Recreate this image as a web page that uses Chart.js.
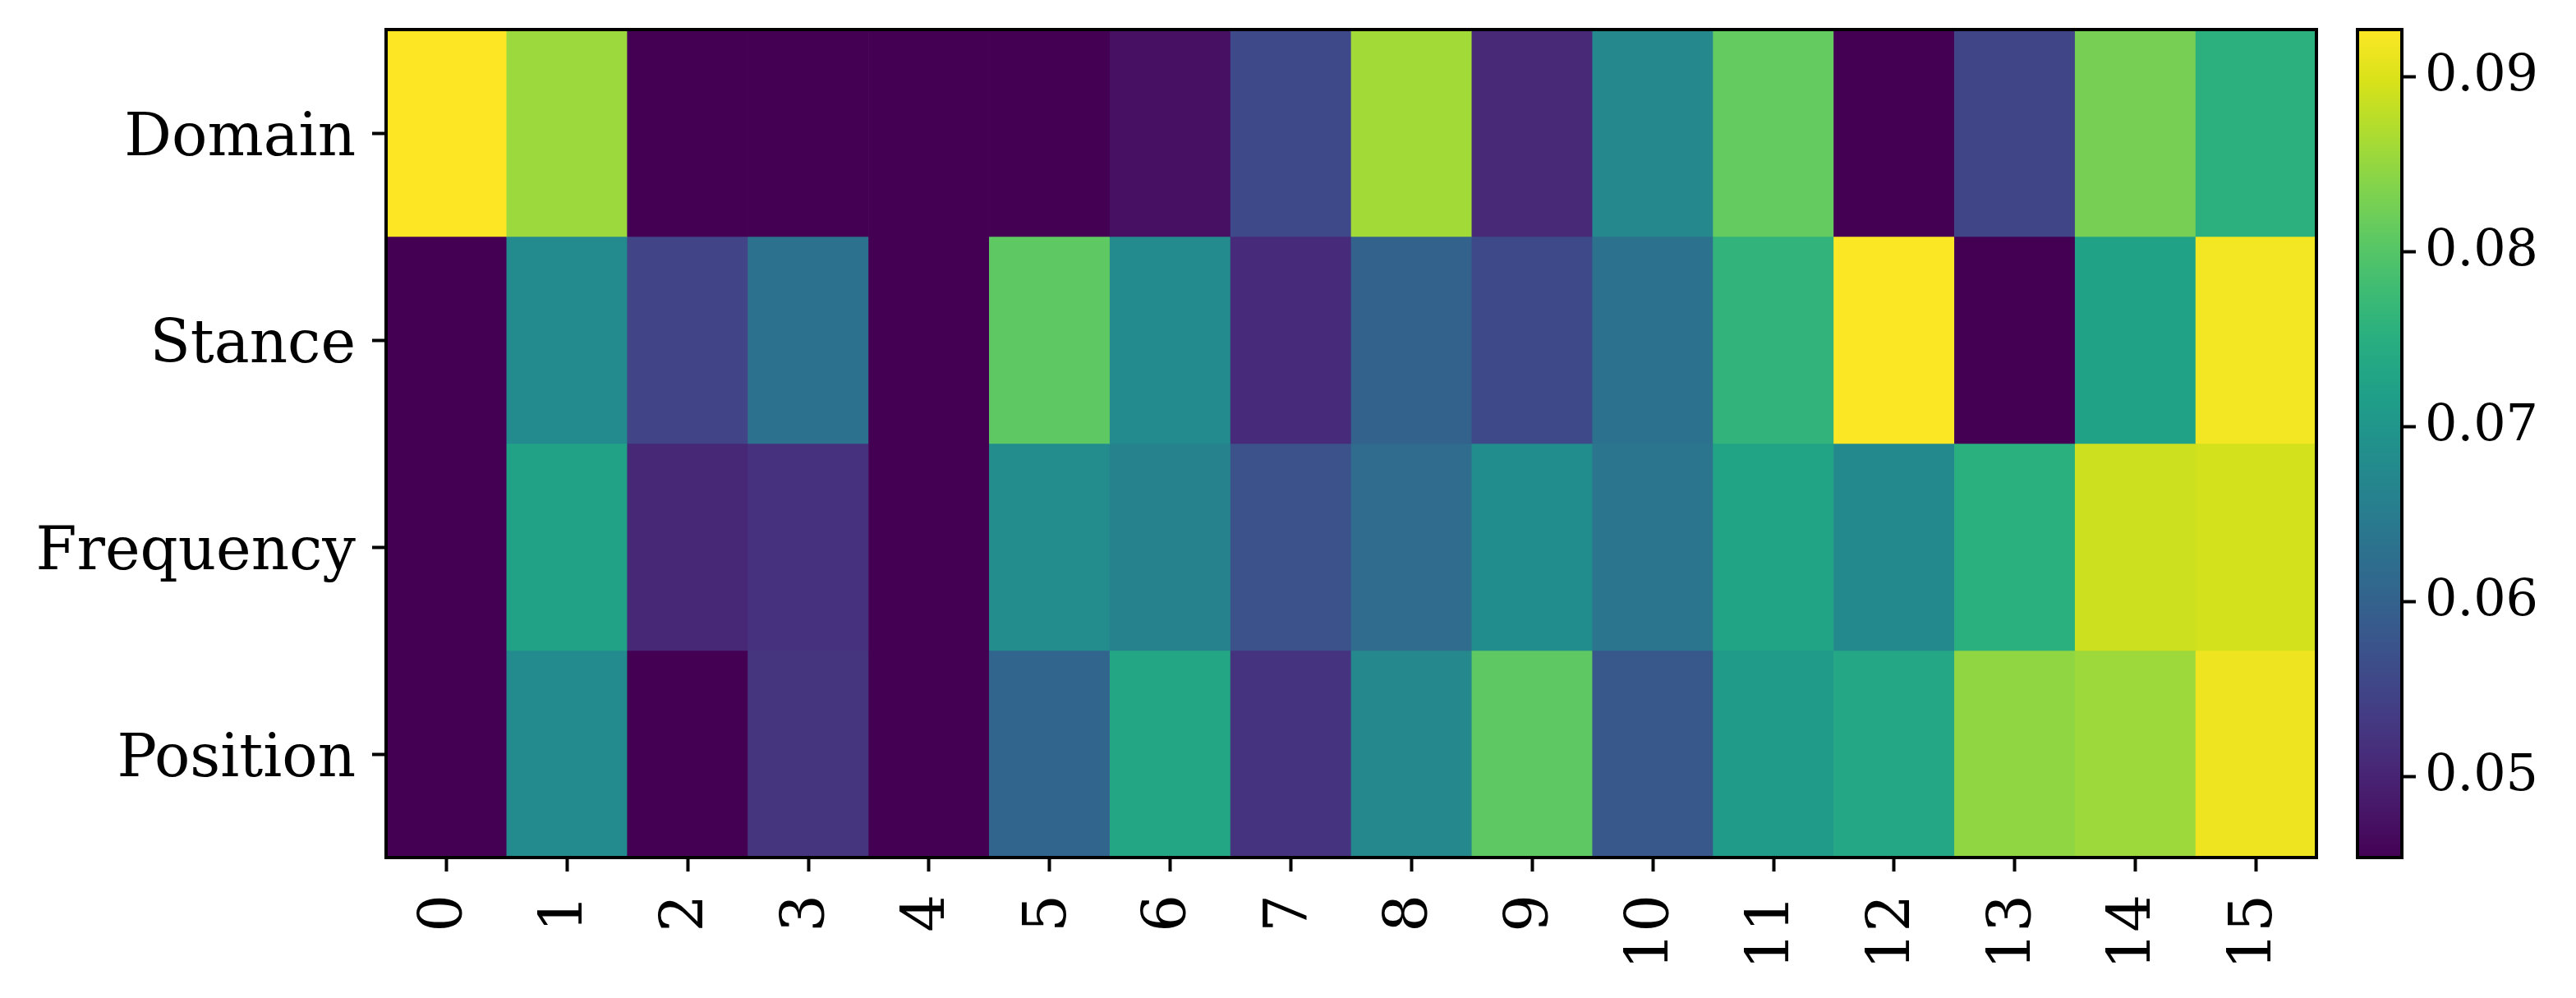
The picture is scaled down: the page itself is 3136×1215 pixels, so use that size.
<!DOCTYPE html>
<html lang="en">
<head>
    <meta charset="UTF-8">
    <title>Heatmap</title>
    <script src="https://cdn.jsdelivr.net/npm/chart.js"></script>
    <style>
        body {
            margin: 0;
            padding: 0;
            background: white;
            width: 3136px;
            height: 1215px;
            position: relative;
            overflow: hidden;
        }
        canvas {
            position: absolute;
            top: 0;
        }
        #heat { left: 0; }
        #cbar { left: 2866px; }
    </style>
</head>
<body>
    <canvas id="heat" width="2822" height="1215"></canvas>
    <canvas id="cbar" width="270" height="1215"></canvas>

    <script>
        // data
        const columns = ['0', '1', '2', '3', '4', '5', '6', '7', '8', '9', '10', '11', '12', '13', '14', '15'];
        const rowLabels = ['Domain', 'Stance', 'Frequency', 'Position'];
        const domain    = [0.0927, 0.0855, 0.0454, 0.0454, 0.0454, 0.0454, 0.0473, 0.0558, 0.0860, 0.0508, 0.0673, 0.0813, 0.0454, 0.0551, 0.0828, 0.0755];
        const stance    = [0.0454, 0.0677, 0.0549, 0.0631, 0.0454, 0.0809, 0.0677, 0.0511, 0.0600, 0.0558, 0.0631, 0.0761, 0.0926, 0.0454, 0.0724, 0.0919];
        const frequency = [0.0454, 0.0725, 0.0506, 0.0520, 0.0454, 0.0681, 0.0662, 0.0572, 0.0620, 0.0683, 0.0636, 0.0726, 0.0675, 0.0752, 0.0890, 0.0893];
        const position  = [0.0454, 0.0676, 0.0454, 0.0525, 0.0454, 0.0605, 0.0733, 0.0523, 0.0672, 0.0809, 0.0582, 0.0709, 0.0735, 0.0847, 0.0856, 0.0915];
        const cbarTicks = [0.05, 0.06, 0.07, 0.08, 0.09];

        const rows = [domain, stance, frequency, position];
        const vmin = Math.min(...rows.flat());
        const vmax = Math.max(...rows.flat());

        // viridis, 17 stops
        const viridis = ['#440154', '#48186a', '#472d7b', '#424086', '#3b528b', '#33638d', '#2c728e', '#26828e',
            '#21918c', '#1fa088', '#28ae80', '#3fbc73', '#5ec962', '#84d44b', '#addc30', '#d8e219', '#fde725'];
        const rgb = viridis.map(h => [1, 3, 5].map(i => parseInt(h.substr(i, 2), 16)));

        function colorFor(v) {
            let t = (v - vmin) / (vmax - vmin);
            t = Math.max(0, Math.min(1, t)) * (rgb.length - 1);
            const i = Math.min(Math.floor(t), rgb.length - 2);
            const f = t - i;
            const c = rgb[i].map((a, k) => Math.round(a + (rgb[i + 1][k] - a) * f));
            return `rgb(${c[0]},${c[1]},${c[2]})`;
        }

        const frame = {
            id: 'frame',
            afterDatasetsDraw(chart) {
                const { ctx, chartArea: a } = chart;
                ctx.save();
                ctx.strokeStyle = '#000';
                ctx.lineWidth = 4;
                ctx.strokeRect(a.left, a.top, a.right - a.left, a.bottom - a.top);
                ctx.restore();
            }
        };

        const tickGrid = {
            display: true,
            drawOnChartArea: false,
            drawTicks: true,
            tickLength: 17,
            tickWidth: 4,
            tickColor: '#000',
            offset: false
        };

        // no extra label overhang padding, the plot box is fixed
        function noPad(s) {
            s.paddingTop = 0;
            s.paddingBottom = 0;
            s.paddingLeft = 0;
            s.paddingRight = 0;
        }

        Chart.defaults.font.family = "'DejaVu Serif', serif";
        Chart.defaults.color = '#000';

        new Chart(document.getElementById('heat'), {
            type: 'bar',
            data: {
                labels: columns,
                datasets: rows.map((vals, r) => ({
                    label: rowLabels[r],
                    data: vals.map(() => [r, r + 1]),
                    backgroundColor: vals.map(colorFor),
                    borderWidth: 0,
                    barPercentage: 1,
                    categoryPercentage: 1,
                    grouped: false
                }))
            },
            options: {
                responsive: false,
                animation: false,
                layout: { padding: { top: 36, right: 2, left: 0, bottom: 0 } },
                plugins: { legend: { display: false }, tooltip: { enabled: false } },
                scales: {
                    x: {
                        grid: tickGrid,
                        border: { display: false },
                        ticks: { font: { size: 72 }, minRotation: 90, maxRotation: 90, padding: 28, autoSkip: false },
                        afterFit: s => { s.height = 171; noPad(s); }
                    },
                    y: {
                        type: 'linear',
                        min: 0,
                        max: rowLabels.length,
                        reverse: true,
                        grid: tickGrid,
                        border: { display: false },
                        afterBuildTicks: s => { s.ticks = rowLabels.map((_, i) => ({ value: i + 0.5 })); },
                        ticks: {
                            font: { size: 72 },
                            padding: 20,
                            labelOffset: 8,
                            callback: v => rowLabels[Math.floor(v)]
                        },
                        afterFit: s => { s.width = 470; noPad(s); }
                    }
                }
            },
            plugins: [frame]
        });

        // colorbar
        new Chart(document.getElementById('cbar'), {
            type: 'bar',
            data: {
                labels: [''],
                datasets: [{
                    data: [[vmin, vmax]],
                    borderWidth: 0,
                    barPercentage: 1,
                    categoryPercentage: 1,
                    backgroundColor: ctx => {
                        const a = ctx.chart.chartArea;
                        if (!a) return null;
                        const g = ctx.chart.ctx.createLinearGradient(0, a.bottom, 0, a.top);
                        viridis.forEach((c, i) => g.addColorStop(i / (viridis.length - 1), c));
                        return g;
                    }
                }]
            },
            options: {
                responsive: false,
                animation: false,
                layout: { padding: { top: 36, bottom: 171, left: 4, right: 0 } },
                plugins: { legend: { display: false }, tooltip: { enabled: false } },
                scales: {
                    x: { display: false },
                    y: {
                        position: 'right',
                        min: vmin,
                        max: vmax,
                        grid: tickGrid,
                        border: { display: false },
                        afterBuildTicks: s => { s.ticks = cbarTicks.map(v => ({ value: v })); },
                        ticks: { font: { size: 62 }, padding: 11, callback: v => v.toFixed(2) },
                        afterFit: s => { s.width = 212; noPad(s); }
                    }
                }
            },
            plugins: [frame]
        });
    </script>
</body>
</html>
